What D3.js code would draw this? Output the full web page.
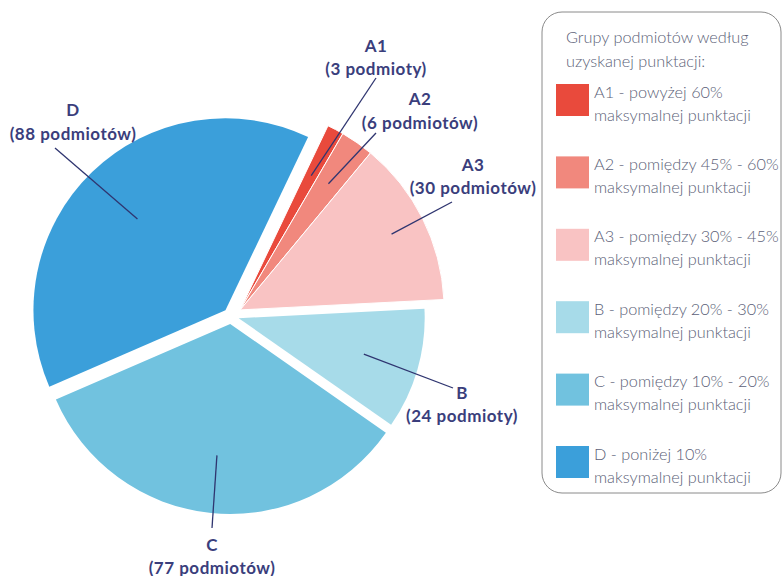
<!DOCTYPE html>
<html>
<head>
<meta charset="utf-8">
<script src="https://cdn.jsdelivr.net/npm/d3@7"></script>
<style>
  html, body { margin: 0; padding: 0; background: #fff; }
  svg { display: block; }
</style>
</head>
<body>
<svg id="chart" width="782" height="576"></svg>
<script>
// Groups of entities and how many fall into each score band
const groups = ["A1", "A2", "A3", "B", "C", "D"];
const counts = [3, 6, 30, 24, 77, 88];
const countLabels = ["(3 podmioty)", "(6 podmiotów)", "(30 podmiotów)", "(24 podmioty)", "(77 podmiotów)", "(88 podmiotów)"];
const legendLine1 = [
  "A1 - powyżej 60%",
  "A2 - pomiędzy 45% - 60%",
  "A3 - pomiędzy 30% - 45%",
  "B - pomiędzy 20% - 30%",
  "C - pomiędzy 10% - 20%",
  "D - poniżej 10%"
];
const legendLine2 = "maksymalnej punktacji";
const legendTitle = ["Grupy podmiotów według", "uzyskanej punktacji:"];
const colors = ["#e94a3c", "#f1887d", "#f9c3c3", "#a7dbe9", "#71c2df", "#3b9fda"];

// Drawing layout
const cx = 231, cy = 316;
const startDeg = 25.5;
const radius = { A: 204, B: 186, C: 190, D: 192 };
const explode = { A: 11, B: 8, C: 8, D: 8 };
// leader line: inner radius (fraction of slice radius), outer end and label centre
const labelLayout = [
  { lead: 0.745, end: [376, 78],  at: [376, 45], gap: 23 },
  { lead: 0.755, end: [376, 133], at: [420, 98], gap: 24 },
  { lead: 0.83,  end: [452, 202], at: [473, 164], gap: 23 },
  { lead: 0.70,  end: [453, 388], at: [462, 392], gap: 23 },
  { lead: 0.695, end: [212, 528], at: [212, 544], gap: 23 },
  { lead: 0.66,  end: [55, 148],  at: [73, 109], gap: 24 }
];

const svg = d3.select("#chart");
const ink = "#3a3e7c";

const pie = d3.pie().sort(null).value(d => d)
  .startAngle(startDeg * Math.PI / 180)
  .endAngle(startDeg * Math.PI / 180 + 2 * Math.PI);
const arcs = pie(counts);

const familyOf = i => groups[i][0];
// the three A bands are pulled out together along their common middle
const aArcs = arcs.filter((a, i) => familyOf(i) === "A");
const aMid = (aArcs[0].startAngle + aArcs[aArcs.length - 1].endAngle) / 2;

function apex(i) {
  const f = familyOf(i);
  const a = arcs[i];
  const ang = f === "A" ? aMid : (a.startAngle + a.endAngle) / 2;
  const [dx, dy] = d3.pointRadial(ang, explode[f]);
  return [cx + dx, cy + dy];
}

const arcGen = d3.arc().innerRadius(0);

const slices = svg.append("g");
arcs.forEach((a, i) => {
  const f = familyOf(i);
  const [ax, ay] = apex(i);
  slices.append("path")
    .attr("transform", `translate(${ax},${ay})`)
    .attr("d", arcGen.outerRadius(radius[f])(a))
    .attr("fill", colors[i])
    .attr("stroke", "#fff")
    .attr("stroke-width", f === "A" ? 1 : 0);
});

// leader lines and labels
const labels = svg.append("g")
  .attr("font-family", "Lato, 'Open Sans', sans-serif")
  .attr("font-weight", 700)
  .attr("font-size", 17)
  .attr("letter-spacing", 0.5)
  .attr("fill", ink)
  .attr("text-anchor", "middle");

arcs.forEach((a, i) => {
  const f = familyOf(i);
  const [ax, ay] = apex(i);
  const mid = (a.startAngle + a.endAngle) / 2;
  const [px, py] = d3.pointRadial(mid, radius[f] * labelLayout[i].lead);
  svg.append("line")
    .attr("x1", ax + px).attr("y1", ay + py)
    .attr("x2", labelLayout[i].end[0]).attr("y2", labelLayout[i].end[1])
    .attr("stroke", "#2f3570")
    .attr("stroke-width", 1.3);
  const [lx, ly] = labelLayout[i].at;
  labels.append("text")
    .attr("x", lx).attr("y", ly)
    .attr("dominant-baseline", "central")
    .text(groups[i]);
  labels.append("text")
    .attr("x", lx).attr("y", ly + labelLayout[i].gap)
    .attr("dominant-baseline", "central")
    .text(countLabels[i]);
});

// legend box
const legend = svg.append("g");
legend.append("rect")
  .attr("x", 542).attr("y", 12)
  .attr("width", 239).attr("height", 481)
  .attr("rx", 20).attr("ry", 20)
  .attr("fill", "#fff")
  .attr("stroke", "#8a8a8a")
  .attr("stroke-width", 1);

const legendText = legend.append("g")
  .attr("font-family", "Lato, 'Open Sans', sans-serif")
  .attr("font-weight", 300)
  .attr("font-size", 16.3)
  .attr("fill", "#5c5f78");

legendTitle.forEach((t, k) => {
  legendText.append("text")
    .attr("x", 566).attr("y", 36 + k * 24)
    .attr("dominant-baseline", "central")
    .text(t);
});

const rowY = d3.scaleLinear().domain([0, groups.length - 1]).range([84, 446]);
groups.forEach((g, i) => {
  const y0 = rowY(i);
  legend.append("rect")
    .attr("x", 556).attr("y", y0)
    .attr("width", 33).attr("height", 32)
    .attr("fill", colors[i]);
  legendText.append("text")
    .attr("x", 594).attr("y", y0 + 7)
    .attr("dominant-baseline", "central")
    .text(legendLine1[i]);
  legendText.append("text")
    .attr("x", 594).attr("y", y0 + 30)
    .attr("dominant-baseline", "central")
    .text(legendLine2);
});
</script>
</body>
</html>
